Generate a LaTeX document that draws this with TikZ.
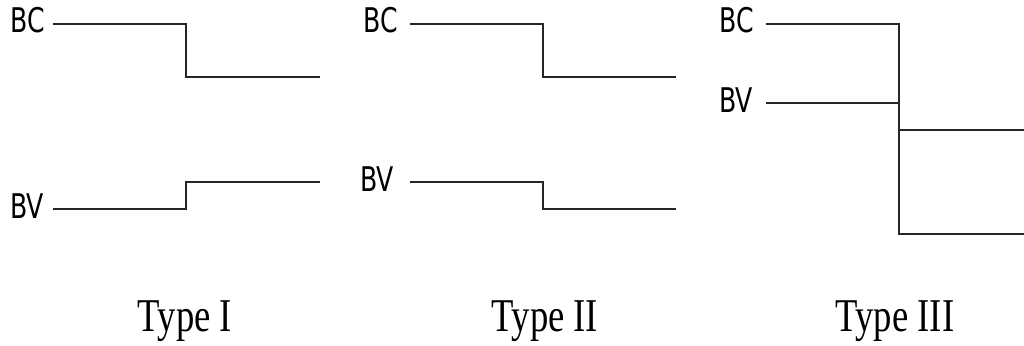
\documentclass[tikz,border=0pt]{standalone}
\usepackage{fontspec}
\setmainfont{Liberation Serif}
\newfontfamily\lblfont{DejaVu Sans}
\begin{document}
\begin{tikzpicture}[x=1pt,y=-1pt,
  sig/.style={draw=black!85,line width=2.7pt},
  lbl/.style={inner sep=0pt,anchor=base east,font=\lblfont\fontsize{34}{34}\selectfont,xscale=0.74},
  typecap/.style={inner sep=0pt,anchor=base,font=\fontsize{47}{47}\selectfont,xscale=0.78}]
\useasboundingbox (0,0) rectangle (1024,345);
% Type I
\node[lbl] (bc1) at (45,33) {BC};
\node[lbl] (bv1) at (44,218) {BV};
\coordinate (a1) at (53,24); \coordinate (a2) at (186,24);
\coordinate (a3) at (186,77); \coordinate (a4) at (320,77);
\coordinate (b1) at (53,209); \coordinate (b2) at (186,209);
\coordinate (b3) at (186,182); \coordinate (b4) at (320,182);
\draw[sig] (a1) -- (a2) -- (a3) -- (a4);
\draw[sig] (b1) -- (b2) -- (b3) -- (b4);
\node[typecap] (t1) at (185,331) {Type I};
% Type II
\node[lbl] (bc2) at (398,33) {BC};
\node[lbl] (bv2) at (394,191) {BV};
\coordinate (c1) at (410,24); \coordinate (c2) at (543,24);
\coordinate (c3) at (543,77); \coordinate (c4) at (676,77);
\coordinate (d1) at (410,182); \coordinate (d2) at (543,182);
\coordinate (d3) at (543,209); \coordinate (d4) at (676,209);
\draw[sig] (c1) -- (c2) -- (c3) -- (c4);
\draw[sig] (d1) -- (d2) -- (d3) -- (d4);
\node[typecap] (t2) at (545,331) {Type II};
% Type III
\node[lbl] (bc3) at (754,33) {BC};
\node[lbl] (bv3) at (753,112) {BV};
\coordinate (e1) at (766,24); \coordinate (e2) at (899,24);
\coordinate (e3) at (899,234); \coordinate (e4) at (1024,234);
\coordinate (f1) at (766,103); \coordinate (f2) at (899,103);
\coordinate (g1) at (899,130); \coordinate (g2) at (1024,130);
\draw[sig] (e1) -- (e2) -- (e3) -- (e4);
\draw[sig] (f1) -- (f2);
\draw[sig] (g1) -- (g2);
\node[typecap] (t3) at (895,331) {Type III};
\end{tikzpicture}
\end{document}
